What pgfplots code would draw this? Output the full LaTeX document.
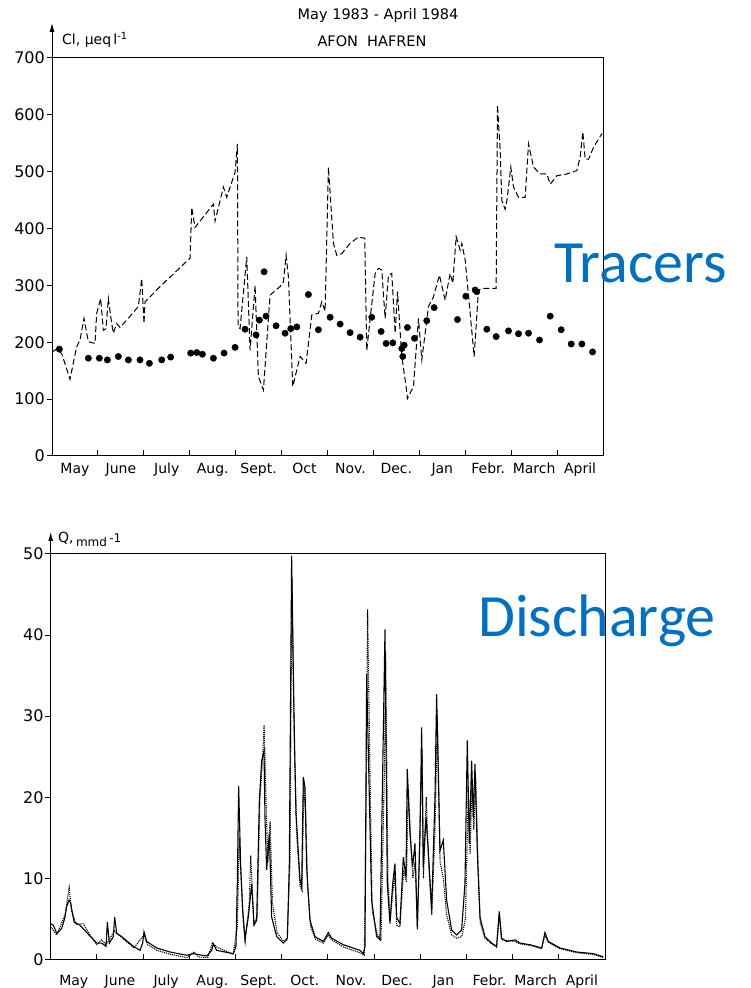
\documentclass[border=0pt]{standalone}
\usepackage{pgfplots}
\pgfplotsset{compat=1.18}
\usepackage{fontspec}
\setmainfont{DejaVu Sans}
\newfontfamily\calibri{Carlito}
\usetikzlibrary{arrows.meta}
\definecolor{pptblue}{HTML}{0070C0}

\pgfplotstableread{
m v
0.000 183
0.102 188
0.211 180
0.392 135
0.537 192
0.610 204
0.697 242
0.792 201
0.937 198
0.973 251
1.060 277
1.118 221
1.176 224
1.227 277
1.300 233
1.336 216
1.409 233
1.481 226
1.627 239
1.881 263
1.954 312
2.004 233
2.026 271
2.353 298
3.007 348
3.043 437
3.115 402
3.515 443
3.551 413
3.733 473
3.806 455
3.987 499
4.038 549
4.052 227
4.096 224
4.241 350
4.314 186
4.423 300
4.495 140
4.604 116
4.749 283
4.967 298
5.040 306
5.098 353
5.149 315
5.243 122
5.403 175
5.534 163
5.657 248
5.802 251
5.875 271
5.948 255
6.020 508
6.129 374
6.202 353
6.311 356
6.492 374
6.674 385
6.811 383
6.855 186
6.942 251
7.037 321
7.110 330
7.182 327
7.255 242
7.328 318
7.400 321
7.473 216
7.524 289
7.618 175
7.712 122
7.741 101
7.872 122
7.981 242
8.054 169
8.199 263
8.308 280
8.438 318
8.562 274
8.671 321
8.729 304
8.802 386
8.889 362
8.925 374
8.998 345
9.107 251
9.194 175
9.288 292
9.397 295
9.673 295
9.702 617
9.760 538
9.797 449
9.869 434
9.906 449
9.993 508
10.051 473
10.160 455
10.305 455
10.378 549
10.487 508
10.632 496
10.777 496
10.850 478
10.995 493
11.213 496
11.431 502
11.503 526
11.561 570
11.612 522
11.685 522
11.794 543
11.976 567
}\clline

\pgfplotstableread{
m v
0.160 188
0.792 172
1.031 172
1.206 169
1.445 175
1.663 169
1.917 169
2.121 163
2.389 169
2.585 174
3.021 181
3.152 182
3.275 179
3.515 172
3.747 181
3.987 191
4.205 223
4.444 213
4.517 239
4.619 324
4.662 246
4.880 229
5.076 216
5.200 224
5.330 227
5.585 284
5.802 222
6.057 244
6.275 232
6.492 217
6.710 209
6.964 244
7.168 219
7.277 198
7.422 199
7.618 189
7.640 175
7.669 195
7.741 226
7.894 207
8.162 238
8.322 261
8.831 240
9.012 281
9.216 292
9.252 289
9.470 223
9.673 210
9.942 220
10.160 215
10.378 216
10.617 204
10.850 246
11.089 222
11.307 197
11.540 197
11.772 183
}\cldots

\pgfplotstableread{
m q
0.000 4.4
0.058 4.2
0.130 3.2
0.238 3.8
0.310 5.2
0.346 6.5
0.397 7.3
0.433 6.9
0.505 4.6
0.635 4.2
0.779 3.3
0.996 2.0
1.104 2.0
1.198 1.6
1.227 4.6
1.270 2.0
1.356 2.8
1.385 5.2
1.429 3.2
1.537 2.8
1.789 1.6
1.934 1.1
1.991 2.0
2.020 3.4
2.078 2.2
2.294 1.4
2.583 0.9
2.944 0.5
3.088 0.7
3.377 0.4
3.485 1.1
3.521 1.9
3.593 1.1
3.954 0.7
4.011 1.6
4.040 9.3
4.069 21.4
4.113 11.4
4.156 6.1
4.206 2.6
4.278 5.2
4.351 9.3
4.401 4.2
4.459 4.8
4.517 19.6
4.567 24.5
4.618 25.7
4.639 17.5
4.675 11.0
4.733 15.5
4.784 5.2
4.892 2.8
5.036 2.0
5.123 2.6
5.166 11.8
5.216 49.8
5.267 30.0
5.310 18.0
5.397 9.8
5.433 8.9
5.469 22.5
5.505 21.2
5.541 11.4
5.613 4.8
5.722 2.8
5.902 2.2
6.010 3.3
6.082 2.6
6.335 1.8
6.696 1.1
6.768 0.7
6.804 1.6
6.840 35.2
6.898 20.0
6.948 7.3
7.056 2.8
7.128 2.4
7.237 40.7
7.287 9.3
7.345 4.4
7.403 9.3
7.453 11.8
7.489 5.2
7.561 4.4
7.634 12.6
7.691 10.2
7.720 23.5
7.778 15.5
7.835 11.4
7.886 14.3
7.936 4.0
7.994 15.0
8.030 28.6
8.066 11.4
8.124 17.5
8.175 13.4
8.247 6.1
8.319 20.0
8.355 32.7
8.427 13.4
8.499 14.7
8.571 7.3
8.680 3.6
8.788 3.0
8.896 3.6
8.968 9.3
9.019 27.0
9.062 14.3
9.113 24.5
9.149 17.5
9.185 24.1
9.235 13.4
9.293 5.2
9.401 2.8
9.545 2.0
9.654 1.6
9.711 5.9
9.762 2.6
9.870 2.2
10.051 2.4
10.159 2.0
10.375 1.8
10.628 1.4
10.700 3.3
10.772 2.2
11.025 1.4
11.385 0.9
11.746 0.7
11.962 0.3
}\qobs

\pgfplotstableread{
m q
0.000 4.0
0.130 3.0
0.310 5.5
0.400 8.8
0.450 6.0
0.550 4.3
0.700 4.4
0.850 3.0
1.000 1.8
1.100 2.4
1.200 1.8
1.380 3.5
1.550 2.6
1.800 1.4
2.020 3.0
2.100 1.8
2.300 1.1
2.600 0.6
2.950 0.2
3.100 0.9
3.200 0.3
3.400 0.2
3.500 2.0
3.600 1.5
3.950 0.6
4.040 4.0
4.080 15.0
4.120 10.5
4.170 4.5
4.210 2.2
4.300 7.0
4.330 12.8
4.400 4.5
4.470 5.2
4.530 20.0
4.590 25.0
4.620 28.9
4.660 20.0
4.700 12.0
4.750 17.0
4.800 7.0
4.900 3.3
5.040 2.2
5.120 2.4
5.180 12.0
5.220 46.8
5.280 25.0
5.330 15.0
5.400 9.0
5.440 8.5
5.480 21.5
5.520 18.0
5.560 9.0
5.630 4.0
5.730 2.5
5.900 2.0
6.010 3.0
6.080 2.4
6.340 1.5
6.700 0.8
6.790 0.5
6.830 20.0
6.860 43.2
6.920 20.0
6.960 6.0
7.070 3.0
7.150 2.3
7.230 25.0
7.250 38.0
7.300 10.0
7.350 4.8
7.400 8.0
7.450 10.5
7.490 4.2
7.560 4.0
7.640 11.0
7.700 9.5
7.740 21.0
7.800 14.0
7.840 10.0
7.890 12.0
7.940 3.7
8.000 18.0
8.040 26.0
8.070 10.0
8.130 20.0
8.180 12.0
8.250 5.5
8.320 16.0
8.370 30.0
8.430 12.0
8.500 10.0
8.570 5.5
8.680 3.0
8.790 2.6
8.900 2.8
8.980 5.0
9.040 21.0
9.080 13.0
9.120 22.0
9.160 16.0
9.200 22.5
9.250 12.0
9.300 4.5
9.400 2.6
9.550 1.9
9.650 1.5
9.710 5.5
9.760 2.4
10.050 2.2
10.160 1.9
10.380 1.7
10.630 1.3
10.700 3.0
10.770 2.1
11.030 1.3
11.390 0.8
11.750 0.6
11.960 0.2
}\qsim

\pgfplotsset{
  panel/.style={
    scale only axis,
    xmin=0, xmax=12,
    axis line style={line width=1pt},
    xtick={1,...,11}, xticklabels={},
    xtick align=inside, ytick align=outside,
    xtick pos=left, ytick pos=left,
    major tick length=5.5pt,
    tick style={line width=1pt, black},
    extra x ticks={0.5,1.5,...,11.5},
    extra x tick style={major tick length=0pt},
    yticklabel style={font=\fontsize{16}{16}\selectfont, inner sep=1.5pt},
    /pgf/number format/assume math mode=true,
  }
}

\begin{document}
\begin{tikzpicture}
\useasboundingbox (0,0) rectangle (750pt,988pt);

% top panel: chloride
\begin{axis}[panel, name=top,
  at={(52pt,532pt)}, anchor=south west,
  width=551pt, height=398pt,
  ymin=0, ymax=700, ytick={0,100,...,700},
  extra x tick labels={May,June,July,Aug.,Sept.,Oct,Nov.,Dec.,Jan,Febr.,March,April},
  xticklabel style={font=\fontsize{14}{14}\selectfont, anchor=base, yshift=-18pt},
]
\addplot[black, line width=1pt, dash pattern=on 6pt off 3pt] table[x=m, y=v] {\clline};
\addplot[only marks, mark=*, mark size=3.2pt, black] table[x=m, y=v] {\cldots};
\end{axis}
\draw[line width=1pt, -{Latex[length=9pt,width=5pt]}] (top.north west) -- ++(0pt,35pt);
\node[anchor=west, font=\fontsize{14}{14}\selectfont, inner sep=0pt] at (62pt,948pt) {Cl, μeq\,l\textsuperscript{-1}};
\node[font=\fontsize{14.5}{14.5}\selectfont] at (378pt,972pt) {May 1983 - April 1984};
\node[font=\fontsize{14.5}{14.5}\selectfont] at (372pt,946.5pt) {AFON\ \ HAFREN};

% bottom panel: discharge
\begin{axis}[panel, name=bot,
  at={(50.7pt,28.7pt)}, anchor=south west,
  width=554.3pt, height=405.3pt,
  ymin=0, ymax=50, ytick={0,10,...,50},
  extra x tick labels={May,June,July,Aug.,Sept.,Oct.,Nov.,Dec.,Jan,Febr.,March,April},
  xticklabel style={font=\fontsize{14}{14}\selectfont, anchor=base, yshift=-26pt},
]
\addplot[black, line width=1.1pt, densely dotted] table[x=m, y=q] {\qsim};
\addplot[black, line width=1.1pt] table[x=m, y=q] {\qobs};
\end{axis}
\draw[line width=1pt, -{Latex[length=9pt,width=5pt]}] (bot.north west) -- ++(0pt,22pt);
\node[anchor=base west, font=\fontsize{14}{14}\selectfont, inner sep=0pt] at (58pt,445pt) {Q,\,\raisebox{-4pt}{\fontsize{12}{12}\selectfont mmd}\,\fontsize{12}{12}\selectfont -1};

% annotations
\node[anchor=base west, font=\calibri\fontsize{60}{60}\selectfont, text=pptblue, inner sep=0pt] at (554pt,705pt) {Tracers};
\node[anchor=base west, font=\calibri\fontsize{60}{60}\selectfont, text=pptblue, inner sep=0pt] at (478pt,351pt) {Discharge};
\end{tikzpicture}
\end{document}
